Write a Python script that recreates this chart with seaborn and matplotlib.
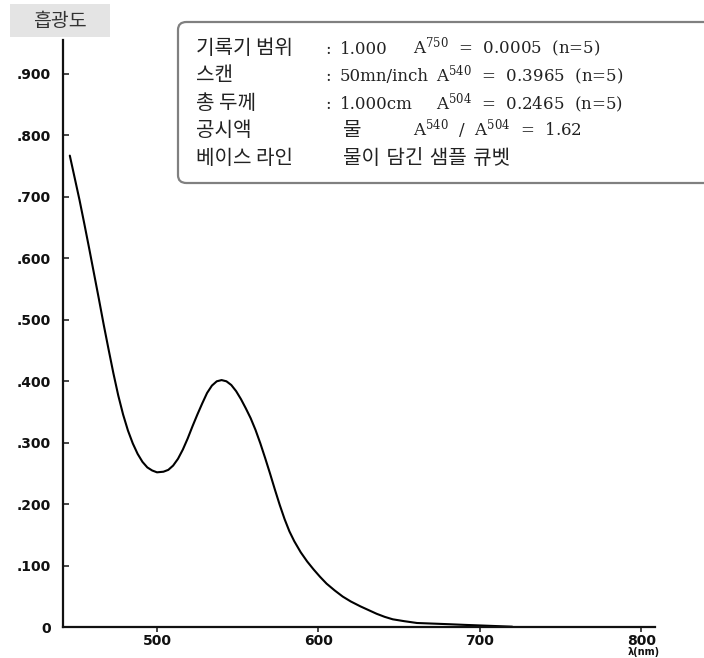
import matplotlib
matplotlib.use("Agg")
import matplotlib.pyplot as plt
from matplotlib.patches import FancyBboxPatch
import seaborn as sns

# absorbance spectrum, values
wavelength = [446, 449, 452, 455, 458, 461, 464, 467, 470, 473, 476, 479, 482,
              485, 488, 491, 494, 497, 500, 504, 507, 510, 513, 516, 519, 522,
              525, 528, 531, 534, 537, 540, 543, 546, 549, 552, 555, 558, 561,
              564, 567, 570, 573, 576, 579, 582, 585, 589, 593, 597, 601, 605,
              610, 615, 620, 626, 631, 636, 641, 646, 653, 661, 671, 681, 690,
              700, 710, 720]
absorbance = [0.767, 0.731, 0.695, 0.656, 0.616, 0.575, 0.534, 0.492, 0.452,
              0.413, 0.377, 0.346, 0.320, 0.299, 0.282, 0.269, 0.260, 0.255,
              0.252, 0.253, 0.256, 0.263, 0.274, 0.289, 0.307, 0.327, 0.346,
              0.364, 0.381, 0.393, 0.400, 0.402, 0.400, 0.394, 0.384, 0.371,
              0.356, 0.340, 0.321, 0.299, 0.275, 0.250, 0.224, 0.199, 0.176,
              0.156, 0.140, 0.122, 0.107, 0.094, 0.082, 0.071, 0.060, 0.050,
              0.042, 0.034, 0.028, 0.022, 0.017, 0.013, 0.010, 0.007, 0.006,
              0.005, 0.004, 0.003, 0.002, 0.001]

y_ticks = [0, 0.1, 0.2, 0.3, 0.4, 0.5, 0.6, 0.7, 0.8, 0.9]
y_tick_labels = ["0", ".100", ".200", ".300", ".400", ".500", ".600", ".700", ".800", ".900"]
x_ticks = [500, 600, 700, 800]
x_tick_labels = ["500", "600", "700", "800"]

y_title = "흡광도"
x_unit = "λ(nm)"

info_labels = ["기록기 범위", "스캔", "총 두께", "공시액", "베이스 라인"]
info_colon = [":", ":", ":", "", ""]
info_values = ["1.000", "50mn/inch", "1.000cm", "물", "물이 담긴 샘플 큐벳"]
info_ratios = [r"$\mathrm{A}^{750}$  =  0.0005  (n=5)",
               r"$\mathrm{A}^{540}$  =  0.3965  (n=5)",
               r"$\mathrm{A}^{504}$  =  0.2465  (n=5)",
               r"$\mathrm{A}^{540}$  /  $\mathrm{A}^{504}$  =  1.62",
               ""]

sns.set_style("white")
plt.rcParams["font.family"] = ["DejaVu Sans", "Noto Sans CJK KR"]
plt.rcParams["mathtext.fontset"] = "dejavuserif"

W, H = 704, 658
fig = plt.figure(figsize=(W / 100, H / 100), dpi=100)
ax = fig.add_axes([62.7 / W, 1 - 627.3 / H, (655 - 62.7) / W, (627.3 - 40) / H])

sns.lineplot(x=wavelength, y=absorbance, color="black", linewidth=1.5, ax=ax)

ax.set_xlim(441.6, 808.4)
ax.set_ylim(0, 0.955)
ax.set_xticks(x_ticks)
ax.set_xticklabels(x_tick_labels)
ax.set_yticks(y_ticks)
ax.set_yticklabels(y_tick_labels)
for lab in ax.get_xticklabels() + ax.get_yticklabels():
    lab.set_fontweight("bold")
    lab.set_fontsize(10)
    lab.set_color("#111111")
ax.tick_params(axis="y", direction="in", length=4.5, width=1.2, pad=8.5, left=True)
ax.tick_params(axis="x", direction="out", length=3.5, width=1.2, pad=1.5, bottom=True)
sns.despine(ax=ax)
for side in ["left", "bottom"]:
    ax.spines[side].set_linewidth(1.6)
    ax.spines[side].set_color("#111111")
ax.set_xlabel("")
ax.set_ylabel("")

ax.annotate(x_unit, xy=(800, 0), xycoords=("data", "axes fraction"),
            xytext=(2, -14.5), textcoords="offset points", ha="center", va="top",
            fontsize=7, fontweight="bold", color="#111111")

# y-axis title in a grey tag at the top left
fig.add_artist(FancyBboxPatch((10 / W, 1 - 37 / H), 100 / W, 33 / H,
                              boxstyle="square,pad=0", facecolor="#e4e4e4",
                              edgecolor="none", transform=fig.transFigure))
fig.text(60 / W, 1 - 21 / H, y_title, ha="center", va="center",
         fontsize=14, family="Noto Sans CJK KR", color="#333333")

# measurement info box
fig.add_artist(FancyBboxPatch((178 / W, 1 - 183 / H), 560 / W, 161 / H,
                              boxstyle="round,pad=0,rounding_size=0.012",
                              facecolor="white", edgecolor="#808080",
                              linewidth=1.6, transform=fig.transFigure,
                              clip_on=False))
baselines = [54, 81, 109, 136, 164]
ratio_x = [413, 436, 436, 413, 413]
for i, b in enumerate(baselines):
    yb = 1 - b / H
    fig.text(196 / W, yb, info_labels[i], va="baseline", fontsize=14.5,
             family="Noto Sans CJK KR", color="#222222")
    if info_colon[i]:
        fig.text(325 / W, yb, info_colon[i], va="baseline", fontsize=12,
                 family="DejaVu Serif", color="#222222")
    korean = any("\uac00" <= c <= "\ud7a3" for c in info_values[i])
    fig.text((343 if korean else 340) / W, yb, info_values[i], va="baseline",
             fontsize=14.5 if korean else 12,
             family=["DejaVu Serif", "Noto Sans CJK KR"], color="#222222")
    if info_ratios[i]:
        fig.text(ratio_x[i] / W, yb, info_ratios[i], va="baseline", fontsize=12,
                 family="DejaVu Serif", color="#222222")

fig.savefig("out.png", dpi=100)
